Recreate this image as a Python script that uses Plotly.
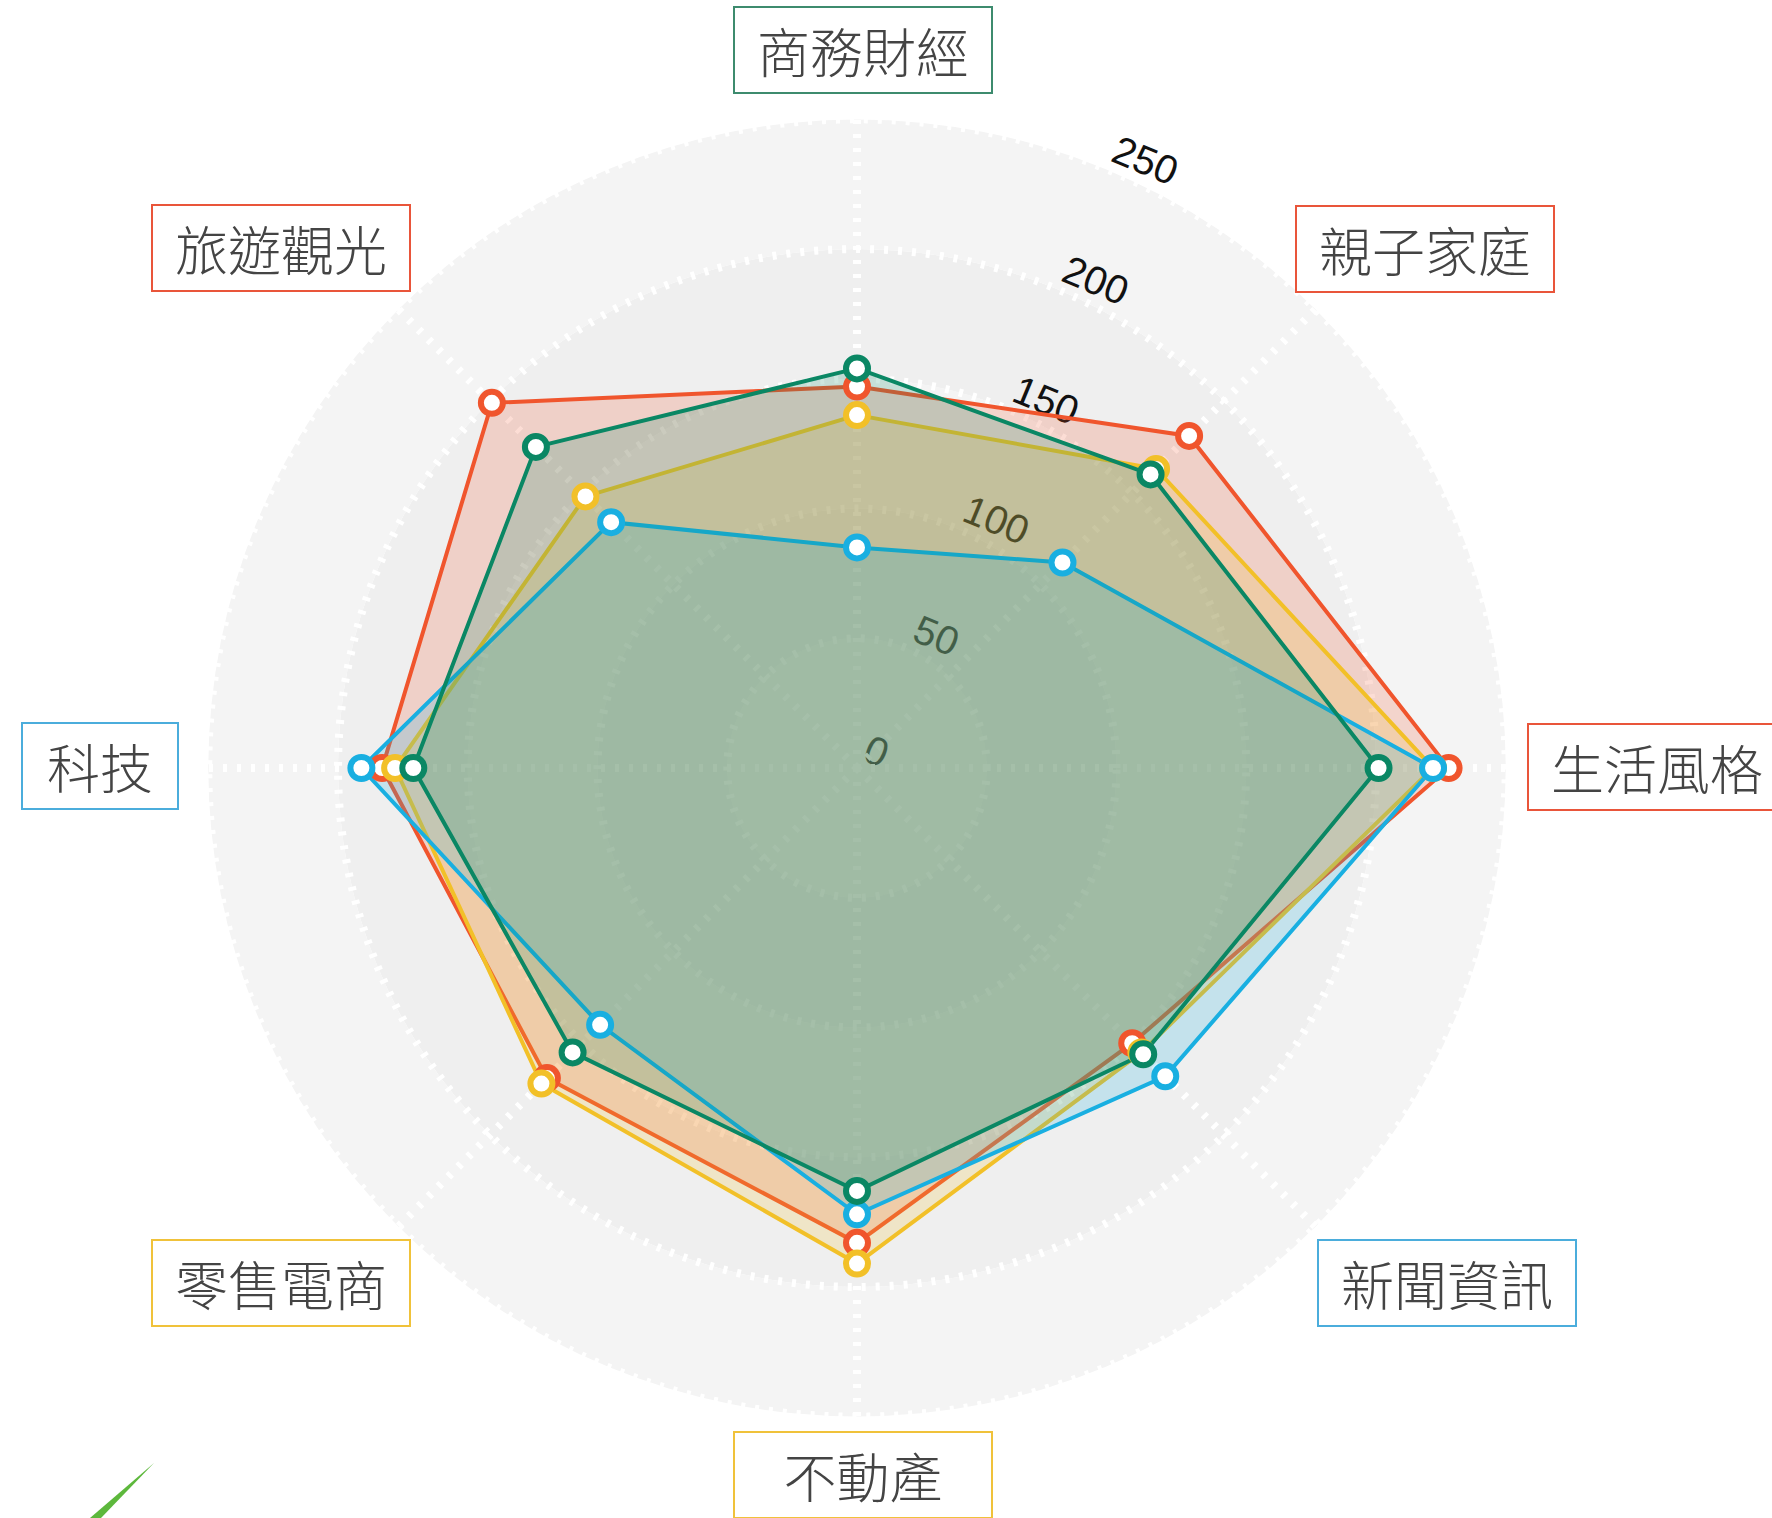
import plotly.graph_objects as go

W, H = 1772, 1518

categories = ["商務財經", "親子家庭", "生活風格", "新聞資訊", "不動產", "零售電商", "科技", "旅遊觀光"]
series_names = ["紅", "黃", "藍", "綠"]
red_vals = [147, 181, 228, 150, 183, 169, 183, 199]
yellow_vals = [136, 163, 222, 155, 191, 172, 178, 148]
blue_vals = [85, 112, 222, 168, 172, 140, 191, 134]
green_vals = [154, 160, 201, 156, 163, 155, 171, 175]
radial_ticks = [0, 50, 100, 150, 200, 250]
band_starts = [0, 50, 100, 150, 200]
band_colors = ["#F4F4F4", "#EFEFEF", "#F4F4F4", "#EFEFEF", "#F4F4F4"]

colors = {"紅": "#F0552D", "黃": "#F2C028", "藍": "#19AFE1", "綠": "#0A8764"}
fills = {"紅": "rgba(240,85,45,0.2)", "黃": "rgba(242,192,40,0.2)",
         "藍": "rgba(25,175,225,0.2)", "綠": "rgba(10,135,100,0.2)"}
values = {"紅": red_vals, "黃": yellow_vals, "藍": blue_vals, "綠": green_vals}

label_border = {"商務財經": "#3D8B6E", "親子家庭": "#E9553A", "生活風格": "#E9553A",
                "新聞資訊": "#4BADDC", "不動產": "#F0C23A", "零售電商": "#F0C23A",
                "科技": "#4BADDC", "旅遊觀光": "#E9553A"}
label_pos = {"商務財經": (863, 50), "親子家庭": (1425, 249), "生活風格": (1657, 767),
             "新聞資訊": (1447, 1283), "不動產": (863, 1475), "零售電商": (281, 1283),
             "科技": (100, 766), "旅遊觀光": (281, 248)}

cx, cy, R = 857, 768, 650
rmax = 250.5
label_shift = 8.5          # tick labels sit a little further out along the axis
rmax1 = 275.0
R1 = R * rmax1 / rmax


def dom(rad):
    return (dict(x=[(cx - rad) / W, (cx + rad) / W],
                 y=[(H - cy - rad) / H, (H - cy + rad) / H]))


fig = go.Figure()

# background bands (polar subplot 1, also carries the radial tick labels)
for b0, bc in zip(band_starts, band_colors):
    fig.add_trace(go.Barpolar(
        theta=[0, 180], width=[180, 180], r=[50, 50], base=[b0, b0],
        marker=dict(color=bc, line=dict(width=0)),
        hoverinfo="skip", subplot="polar", showlegend=False))

# fills + lines (polar subplot 2)
for name in series_names:
    v = values[name]
    fig.add_trace(go.Scatterpolar(
        r=v + [v[0]], theta=categories + [categories[0]],
        mode="lines", fill="toself", fillcolor=fills[name],
        line=dict(color=colors[name], width=4),
        name=name, subplot="polar2", showlegend=False, hoverinfo="skip"))

# markers on top of all areas
for name in series_names:
    fig.add_trace(go.Scatterpolar(
        r=values[name], theta=categories, mode="markers",
        marker=dict(size=22, color="white", line=dict(color=colors[name], width=6)),
        name=name, subplot="polar2", showlegend=False, hoverinfo="skip"))

fig.update_layout(
    width=W, height=H,
    margin=dict(l=0, r=0, t=0, b=0),
    paper_bgcolor="white",
    showlegend=False,
    polar=dict(
        domain=dom(R1),
        bgcolor="rgba(0,0,0,0)",
        barmode="overlay",
        radialaxis=dict(range=[0, rmax1],
                        tickvals=[t + label_shift for t in radial_ticks],
                        ticktext=[str(t) for t in radial_ticks],
                        angle=67.5, tickangle=90, side="clockwise",
                        showline=False, ticks="", showgrid=False,
                        tickfont=dict(family="Liberation Sans, Arial", size=40, color="#111111"),
                        layer="above traces"),
        angularaxis=dict(rotation=90, direction="clockwise", showgrid=False,
                         showticklabels=False, showline=False, ticks=""),
    ),
    polar2=dict(
        domain=dom(R),
        bgcolor="rgba(0,0,0,0)",
        radialaxis=dict(range=[0, rmax], tickvals=radial_ticks,
                        showticklabels=False,
                        showline=False, ticks="",
                        gridcolor="white", gridwidth=8, griddash="4px,10px",
                        layer="below traces"),
        angularaxis=dict(rotation=90, direction="clockwise", categoryorder="array",
                         categoryarray=categories,
                         showticklabels=False, ticks="", showline=False,
                         gridcolor="white", gridwidth=8, griddash="4px,10px",
                         layer="below traces"),
    ),
)

for cat in categories:
    px, py = label_pos[cat]
    bw = 154 if len(cat) == 2 else 256
    fig.add_annotation(
        x=px / W, y=1 - py / H, xref="paper", yref="paper",
        text=cat, showarrow=False, xanchor="center", yanchor="middle",
        width=bw, height=84, borderpad=0,
        bordercolor=label_border[cat], borderwidth=2, bgcolor="white",
        font=dict(family="Noto Sans CJK TC Light, Noto Sans CJK TC", size=53,
                  color="#444444", weight=300))

# small decorative green stroke at bottom-left corner
fig.add_shape(type="path", xref="paper", yref="paper",
              path=f"M {154/W} {1-1463/H} L {90/W} 0 L {101/W} 0 Z",
              fillcolor="#5DB83C", line=dict(width=0))

fig.write_html("out.html", config={"displayModeBar": False},
               post_script="document.body.style.margin='0';")
